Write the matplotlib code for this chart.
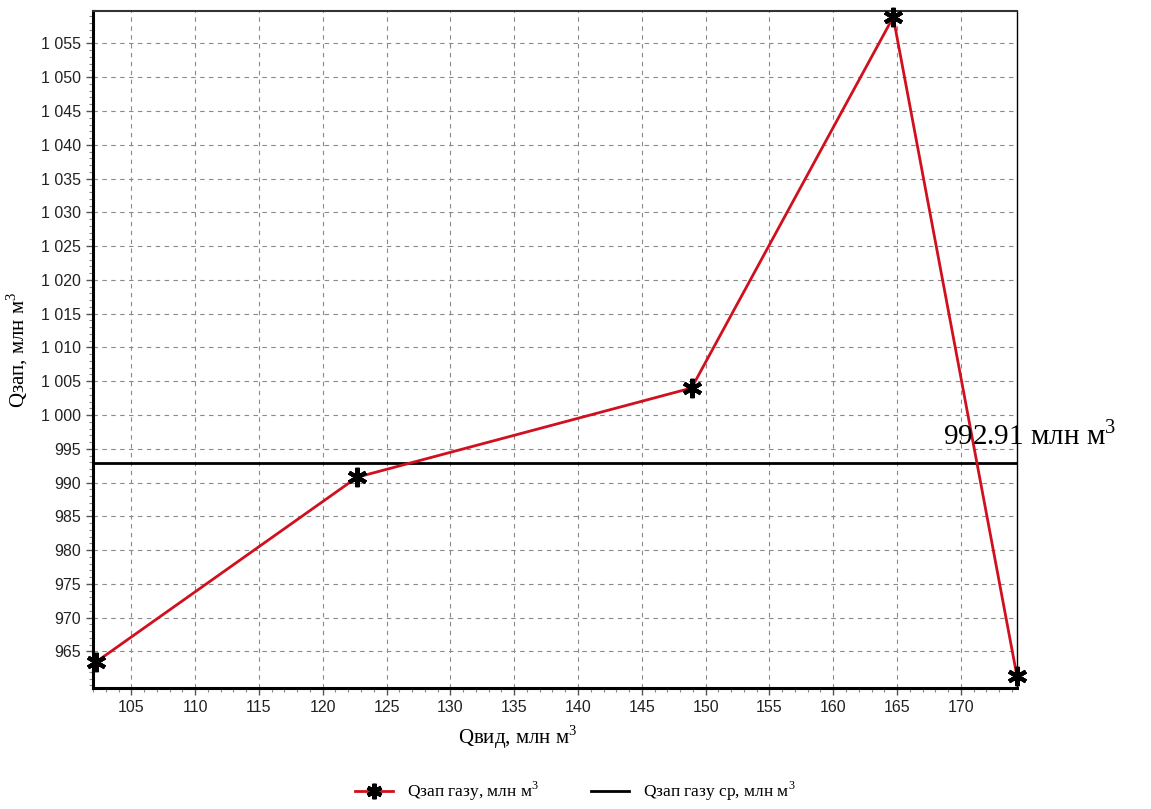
import numpy as np
import matplotlib
matplotlib.use('Agg')
import matplotlib.pyplot as plt
from matplotlib.ticker import MultipleLocator, FuncFormatter

# data
q_vyd = [102.2, 122.7, 148.9, 164.7, 174.4]      # Qвид, млн м3
q_zap = [963.4, 990.8, 1004.0, 1058.9, 961.3]    # Qзап газу, млн м3
q_mean = 992.91                                   # Qзап газу ср

x_ticks = list(range(105, 171, 5))
y_ticks = list(range(965, 1056, 5))

plt.rcParams['mathtext.fontset'] = 'custom'
plt.rcParams['mathtext.rm'] = 'Liberation Serif'
serif = ['Liberation Serif', 'DejaVu Serif']
narrow = ['Liberation Sans Narrow', 'Liberation Sans', 'DejaVu Sans']

fig = plt.figure(figsize=(11.51, 8.09), dpi=100)
ax = fig.add_axes([0.0808, 0.1496, 0.8028, 0.8368])

ax.plot(q_vyd, q_zap, color='#d0101e', linewidth=2, zorder=3,
        marker=(6, 2, 0), markersize=14, markeredgewidth=3,
        markeredgecolor='black', markerfacecolor='black',
        label='Qзап газу, млн м$^3$', clip_on=False)
ax.axhline(q_mean, color='black', linewidth=2, zorder=2,
           label='Qзап газу ср, млн м$^3$')

ax.set_xlim(102.0, 174.4)
ax.set_ylim(959.6, 1059.8)
ax.set_xticks(x_ticks)
ax.set_yticks(y_ticks)
ax.xaxis.set_minor_locator(MultipleLocator(1))
ax.yaxis.set_minor_locator(MultipleLocator(1))
ax.yaxis.set_major_formatter(FuncFormatter(lambda v, p: f'{int(v):,}'.replace(',', ' ')))

for lab in ax.get_xticklabels() + ax.get_yticklabels():
    lab.set_family(narrow)
    lab.set_fontsize(11.5)
    lab.set_color('#222222')
ax.tick_params(which='major', direction='out', length=5, width=1, color='#555555')
ax.tick_params(which='minor', direction='out', length=3, width=0.8, color='#888888')

ax.grid(True, which='major', color='#8a8a8a', linestyle=(0, (4, 4)), linewidth=0.8)

ax.spines['left'].set_linewidth(2.2)
ax.spines['bottom'].set_linewidth(2.2)
ax.spines['top'].set_linewidth(1.5)
ax.spines['top'].set_color('#333333')
ax.spines['right'].set_linewidth(1)

ax.set_xlabel('Qвид, млн м$^3$', family=serif, fontsize=15, labelpad=2)
ax.xaxis.set_label_coords(0.46, -0.053)
ax.set_ylabel('Qзап, млн м$^3$', family=serif, fontsize=15, labelpad=8)

ax.text(168.6, q_mean + 1.8, '992.91 млн м$^3$', family=serif, fontsize=21,
        ha='left', va='bottom', clip_on=False)

fig.legend(loc='lower center', bbox_to_anchor=(0.5, -0.012), ncol=2,
           frameon=False, prop={'family': serif, 'size': 12.5},
           handlelength=2.2, columnspacing=3, markerscale=0.8)

fig.savefig('out.png', dpi=100)
